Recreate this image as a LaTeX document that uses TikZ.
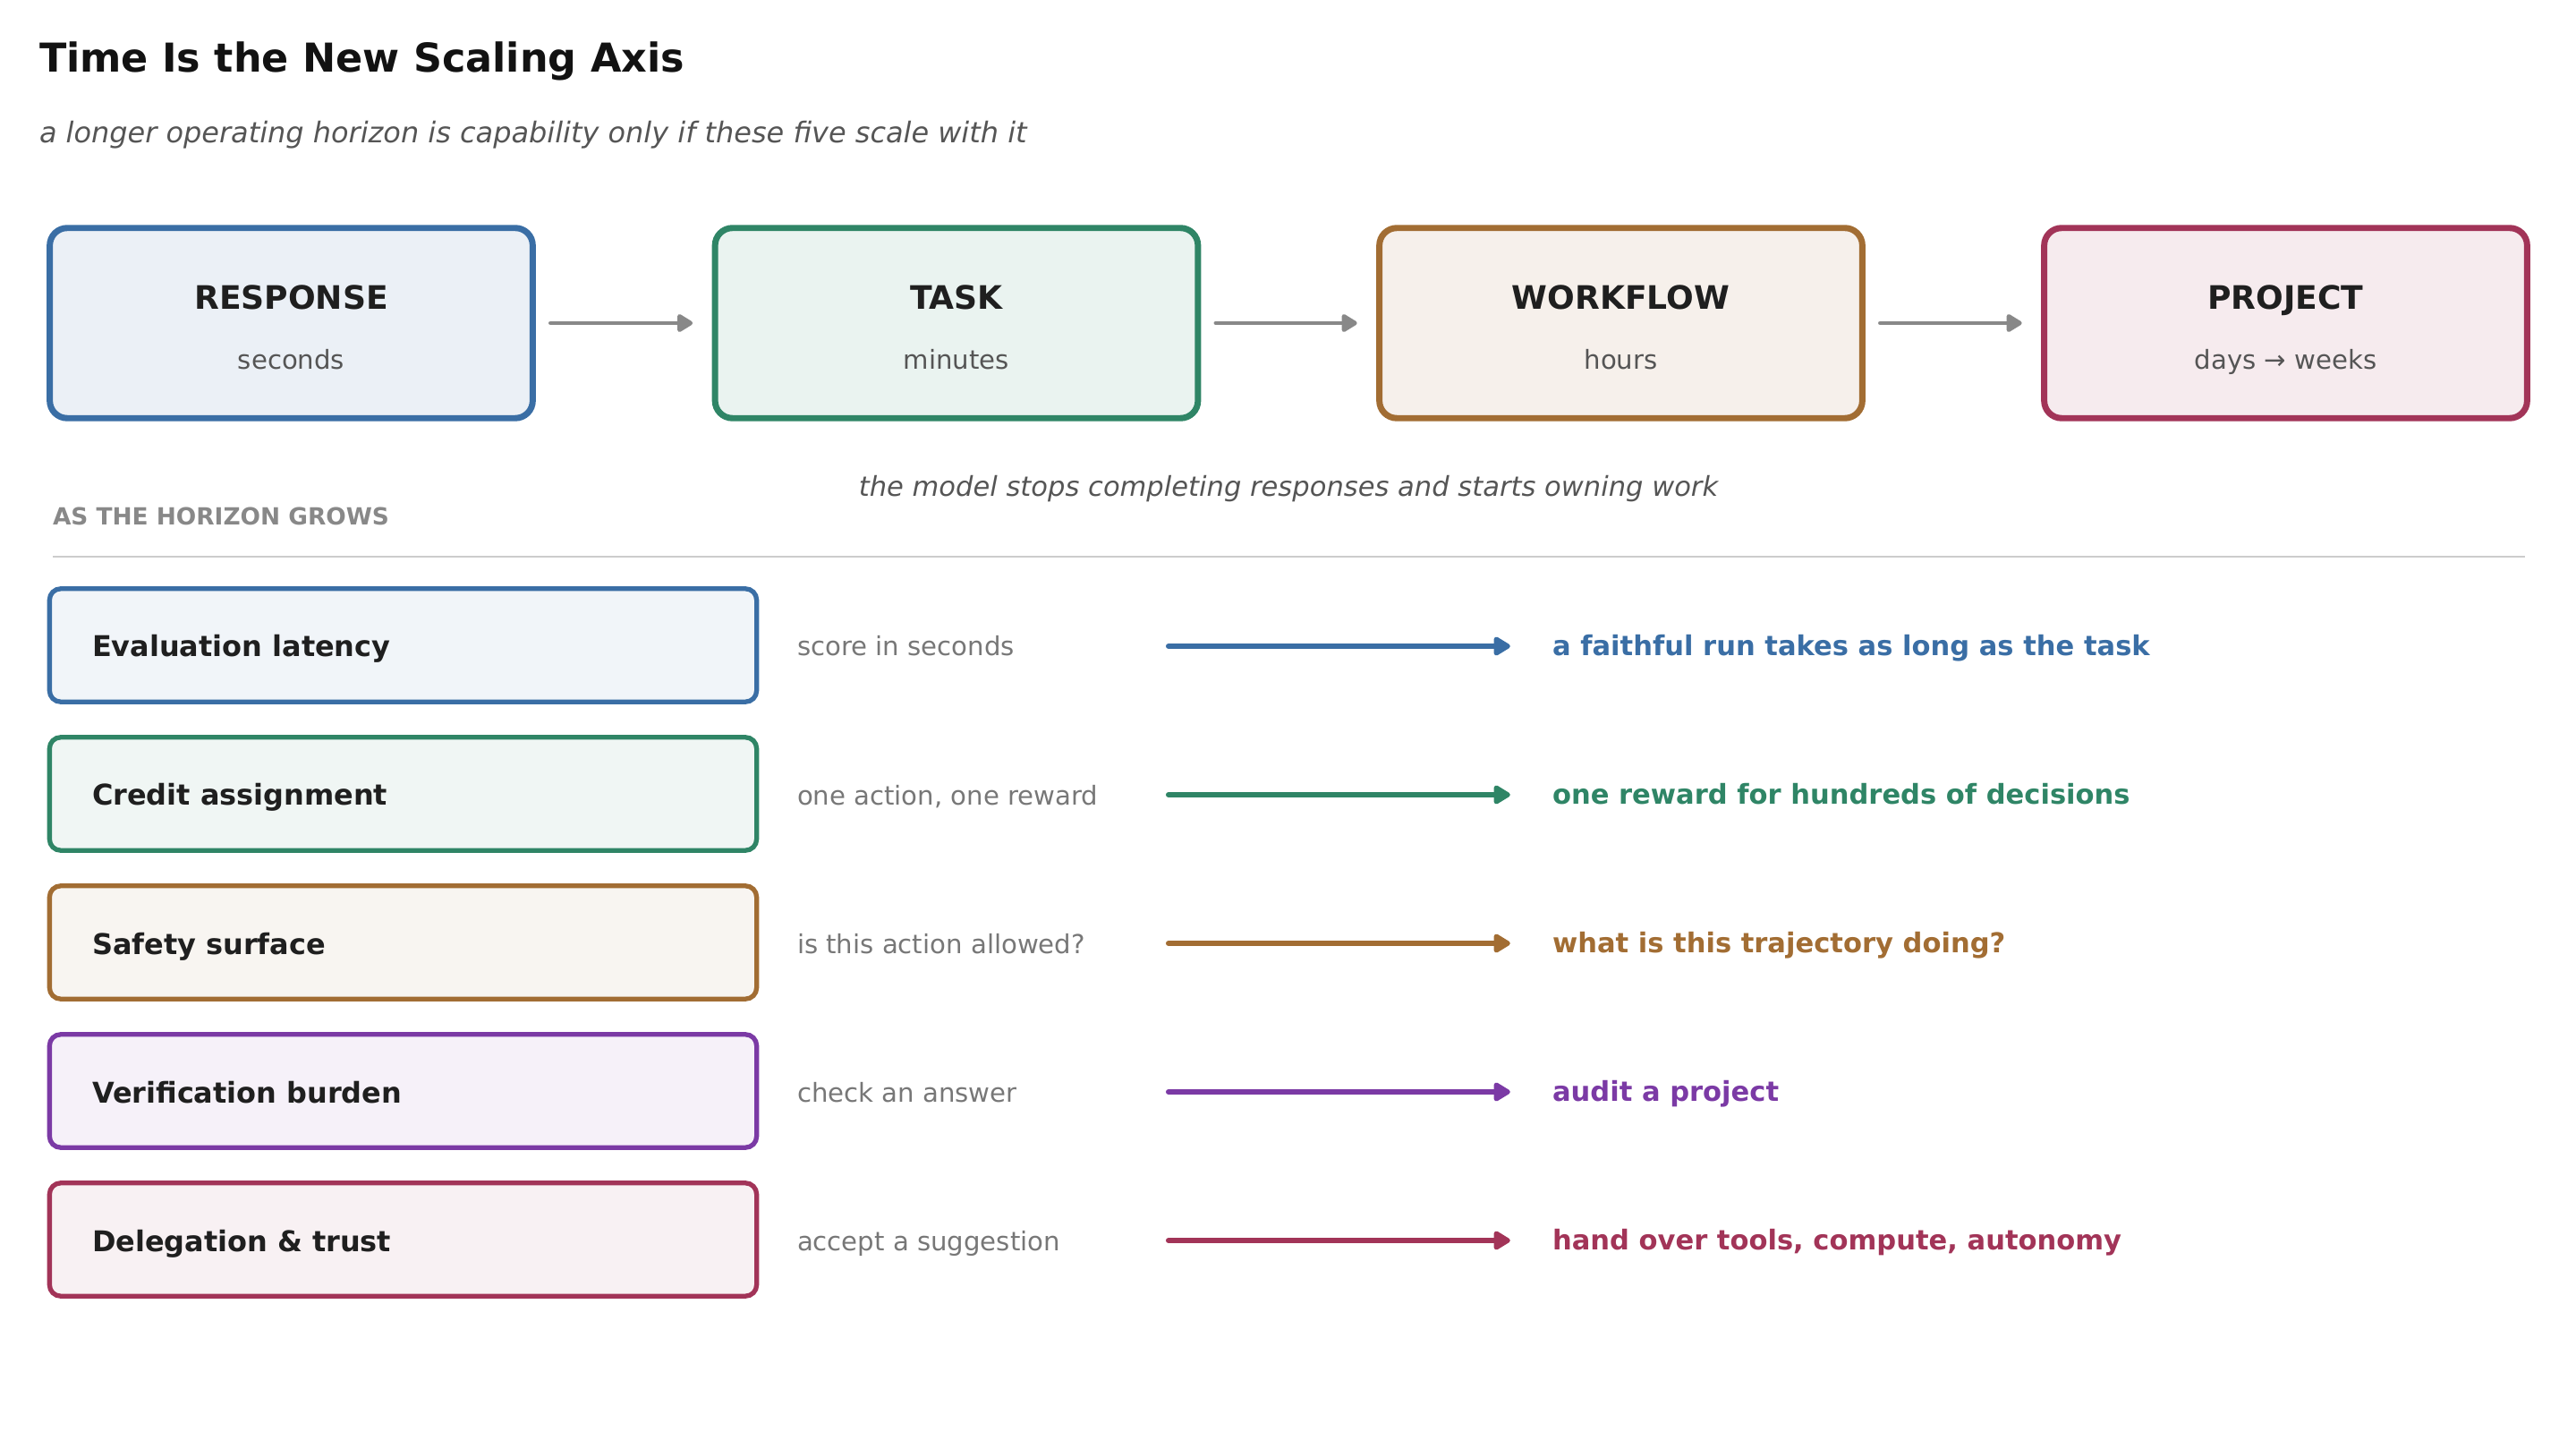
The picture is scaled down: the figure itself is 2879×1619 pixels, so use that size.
\documentclass[tikz,border=0pt]{standalone}
\usepackage{fontspec}
\setmainfont{DejaVu Sans}
\usepackage{tikz}
\usetikzlibrary{arrows.meta}

\definecolor{cblue}{HTML}{3A6EA5}
\definecolor{cgreen}{HTML}{2F8566}
\definecolor{cbrown}{HTML}{A26D33}
\definecolor{cpurple}{HTML}{7B3AA5}
\definecolor{ccrimson}{HTML}{A23458}
\definecolor{ink}{HTML}{1F1F1F}
\definecolor{softgray}{HTML}{555555}
\definecolor{midgray}{HTML}{777777}
\definecolor{lightgray}{HTML}{888888}
\definecolor{rulegray}{HTML}{CCCCCC}

\begin{document}
\begin{tikzpicture}[x=0.36pt, y=-0.36pt,
    every node/.style={inner sep=0pt, outer sep=0pt},
    stage/.style={draw=#1, fill=#1!10, line width=2.5pt, rounded corners=7pt,
      minimum width=194.3pt, minimum height=76.5pt},
    stagename/.style={anchor=base, text=ink, font=\fontsize{13}{15}\selectfont\bfseries},
    stagetime/.style={anchor=base, text=softgray, font=\fontsize{10.5}{12}\selectfont},
    rowbox/.style={draw=#1, fill=#1!7, line width=1.9pt, rounded corners=4.5pt,
      minimum width=284.5pt, minimum height=45.5pt},
    rowname/.style={anchor=base west, text=ink, font=\fontsize{11.5}{13}\selectfont\bfseries},
    before/.style={anchor=base west, text=midgray, font=\fontsize{10.5}{12}\selectfont},
    after/.style={anchor=west, text=#1, text height=9.6pt, text depth=2pt,
      font=\fontsize{11}{13}\selectfont\bfseries},
    flow/.style={draw=lightgray, line width=1.7pt, line cap=round,
      -{Triangle[length=7pt, width=8pt, round]}, shorten <=7.2pt, shorten >=9pt},
    grow/.style={draw=#1, line width=2.2pt, line cap=round,
      -{Triangle[length=7.5pt, width=8.5pt, round]}, shorten >=17pt}]
  \useasboundingbox (0,0) rectangle (2879,1619);

  % heading
  \node[anchor=base west, text=black!93, font=\fontsize{16}{19}\selectfont\bfseries]
    (title) at (44,81) {Time Is the New Scaling Axis};
  \node[anchor=base west, text=softgray, font=\fontsize{11.5}{13}\selectfont\itshape]
    (subtitle) at (44,160) {a longer operating horizon is capability only if these five scale with it};

  % horizon stages
  \node[stage=cblue] (resp) at (325.5,361) {};
  \node[stage=cgreen] (task) at (1069,361) {};
  \node[stage=cbrown] (work) at (1811.5,361) {};
  \node[stage=ccrimson] (proj) at (2554.5,361) {};
  \node[stagename] (respT) at ([yshift=5.6pt]resp.center) {RESPONSE};
  \node[stagetime] (respS) at ([yshift=-18.4pt]resp.center) {seconds};
  \node[stagename] (taskT) at ([yshift=5.6pt]task.center) {TASK};
  \node[stagetime] (taskS) at ([yshift=-18.4pt]task.center) {minutes};
  \node[stagename] (workT) at ([yshift=5.6pt]work.center) {WORKFLOW};
  \node[stagetime] (workS) at ([yshift=-18.4pt]work.center) {hours};
  \node[stagename] (projT) at ([yshift=5.6pt]proj.center) {PROJECT};
  \node[stagetime] (projS) at ([yshift=-18.4pt]proj.center) {days → weeks};
  \draw[flow] (resp) -- (task);
  \draw[flow] (task) -- (work);
  \draw[flow] (work) -- (proj);

  \node[anchor=base, text=softgray, font=\fontsize{11}{13}\selectfont\itshape]
    (note) at (1440,555) {the model stops completing responses and starts owning work};
  \node[anchor=base west, text=lightgray, font=\fontsize{9.5}{11}\selectfont\bfseries]
    (grows) at (59,587) {AS THE HORIZON GROWS};
  \coordinate (ruleL) at (59,622);
  \coordinate (ruleR) at (2822,622);
  \draw[rulegray, line width=1pt] (ruleL) -- (ruleR);

  % what has to scale
  \node[rowbox=cblue] (eval) at (450.5,721) {};
  \node[rowname] (evalT) at (103,734) {Evaluation latency};
  \node[before] (evalB) at (891,733) {score in seconds};
  \coordinate (evalA) at (1306,722);
  \node[after=cblue] (evalR) at (1735,722) {a faithful run takes as long as the task};
  \draw[grow=cblue] (evalA) -- (evalR.west);

  \node[rowbox=cgreen] (cred) at (450.5,887) {};
  \node[rowname] (credT) at (103,900) {Credit assignment};
  \node[before] (credB) at (891,899) {one action, one reward};
  \coordinate (credA) at (1306,888);
  \node[after=cgreen] (credR) at (1735,888) {one reward for hundreds of decisions};
  \draw[grow=cgreen] (credA) -- (credR.west);

  \node[rowbox=cbrown] (safe) at (450.5,1053) {};
  \node[rowname] (safeT) at (103,1066) {Safety surface};
  \node[before] (safeB) at (891,1065) {is this action allowed?};
  \coordinate (safeA) at (1306,1054);
  \node[after=cbrown] (safeR) at (1735,1054) {what is this trajectory doing?};
  \draw[grow=cbrown] (safeA) -- (safeR.west);

  \node[rowbox=cpurple] (veri) at (450.5,1219) {};
  \node[rowname] (veriT) at (103,1232) {Verification burden};
  \node[before] (veriB) at (891,1231) {check an answer};
  \coordinate (veriA) at (1306,1220);
  \node[after=cpurple] (veriR) at (1735,1220) {audit a project};
  \draw[grow=cpurple] (veriA) -- (veriR.west);

  \node[rowbox=ccrimson] (dele) at (450.5,1385) {};
  \node[rowname] (deleT) at (103,1398) {Delegation \& trust};
  \node[before] (deleB) at (891,1397) {accept a suggestion};
  \coordinate (deleA) at (1306,1386);
  \node[after=ccrimson] (deleR) at (1735,1386) {hand over tools, compute, autonomy};
  \draw[grow=ccrimson] (deleA) -- (deleR.west);
\end{tikzpicture}
\end{document}
